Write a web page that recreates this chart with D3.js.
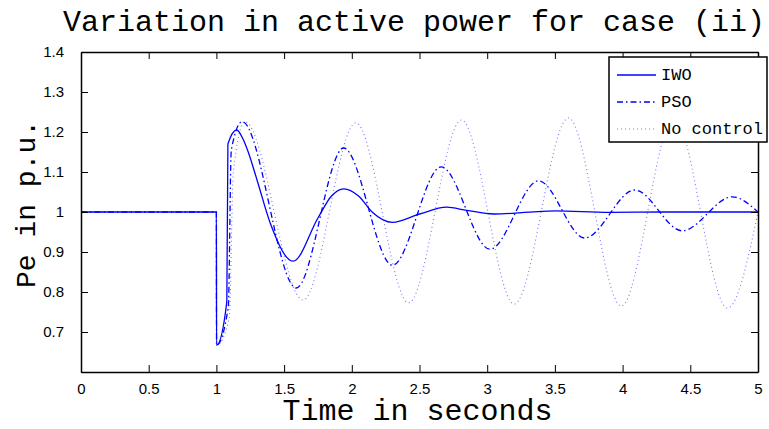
<!DOCTYPE html>
<html>
<head>
<meta charset="utf-8">
<script src="https://cdn.jsdelivr.net/npm/d3@7"></script>
<style>
  body { margin: 0; background: #fff; }
  .tick text { font-family: "Liberation Sans", Arial, sans-serif; font-size: 15px; }
</style>
</head>
<body>
<div id="chart"></div>
<script>
// values: [time s, Pe p.u.]
var iwo = [[0,1],[1,1],[1.001,0.667],[1.077,0.776],[1.085,1.17],[1.15,1.205],[1.2,1.18],[1.235,1.15],
  [1.3,1.08],[1.4,0.97],[1.566,0.877],[1.75,0.985],[1.85,1.04],[1.94,1.058],[2.05,1.04],[2.15,1.0],
  [2.3,0.974],[2.5,0.995],[2.7,1.012],[2.85,1.004],[3.05,0.995],[3.5,1.003],[3.9,0.999],[4.3,1.0],[5,1.0]];
var pso = [[0,1],[1,1],[1.001,0.667],[1.088,0.763],[1.11,1.155],[1.19,1.226],[1.59,0.81],[1.94,1.16],
  [2.3,0.867],[2.66,1.113],[3.02,0.907],[3.38,1.078],[3.72,0.935],[4.09,1.055],[4.44,0.953],[4.81,1.038],[5,1.0]];
var noctrl = [[0,1],[1,1],[1.001,0.667],[1.095,0.735],[1.125,1.1],[1.21,1.226],[1.64,0.78],[2.03,1.223],
  [2.42,0.773],[2.81,1.23],[3.2,0.77],[3.6,1.235],[3.99,0.765],[4.38,1.235],[4.775,0.76],[5,1.0]];
var xTicks = [0,0.5,1,1.5,2,2.5,3,3.5,4,4.5,5];
var xTickLabels = ["0","0.5","1","1.5","2","2.5","3","3.5","4","4.5","5"];
var yTicks = [0.6,0.7,0.8,0.9,1,1.1,1.2,1.3,1.4];
var yTickLabels = ["","0.7","0.8","0.9","1","1.1","1.2","1.3","1.4"];
var seriesNames = ["IWO","PSO","No control"];

var w = 769, h = 429,
    margin = {top: 52, right: 11, bottom: 57, left: 81},
    width = w - margin.left - margin.right,
    height = h - margin.top - margin.bottom;

var mono = "'Liberation Mono', 'Courier New', monospace";

var svg = d3.select("#chart").append("svg").attr("width", w).attr("height", h);

var x = d3.scaleLinear().domain([0, 5]).range([0, width]),
    y = d3.scaleLinear().domain([0.6, 1.4]).range([height, 0]);

var g = svg.append("g").attr("transform", "translate(" + margin.left + "," + margin.top + ")");

var line = d3.line()
    .curve(d3.curveMonotoneX)
    .x(function(d) { return x(d[0]); })
    .y(function(d) { return y(d[1]); });

var styles = [
  {data: iwo, stroke: "#0000ff", dash: null, sw: 1.3},
  {data: pso, stroke: "#0000ff", dash: "6,3,1.5,3", sw: 1.3},
  {data: noctrl, stroke: "#7777ff", dash: "1,3", sw: 1.1}
];

g.append("defs").append("clipPath").attr("id", "clip")
  .append("rect").attr("width", width).attr("height", height);

// draw no control first so IWO ends up on top
styles.slice().reverse().forEach(function(s) {
  g.append("path")
      .datum(s.data)
      .attr("clip-path", "url(#clip)")
      .attr("fill", "none")
      .attr("stroke", s.stroke)
      .attr("stroke-width", s.sw)
      .attr("stroke-dasharray", s.dash)
      .attr("d", line);
});

// axes, ticks pointing inward on all four sides
function fmt(ticks, labels) { return function(d) { return labels[ticks.indexOf(d)]; }; }

g.append("g")
    .attr("transform", "translate(0," + height + ")")
    .call(d3.axisBottom(x).tickValues(xTicks).tickFormat(fmt(xTicks, xTickLabels)).tickSizeInner(-7).tickSizeOuter(0).tickPadding(11));
g.append("g")
    .call(d3.axisTop(x).tickValues(xTicks).tickFormat("").tickSizeInner(-7).tickSizeOuter(0));
g.append("g")
    .call(d3.axisLeft(y).tickValues(yTicks).tickFormat(fmt(yTicks, yTickLabels)).tickSizeInner(-7).tickSizeOuter(0).tickPadding(17));
g.append("g")
    .attr("transform", "translate(" + width + ",0)")
    .call(d3.axisRight(y).tickValues(yTicks).tickFormat("").tickSizeInner(-7).tickSizeOuter(0));

g.selectAll(".domain").attr("stroke", "#000").attr("stroke-width", 1.5);
g.selectAll(".tick line").attr("stroke", "#000");
g.selectAll(".tick text").attr("fill", "#000");

// titles
svg.append("text")
    .attr("x", 414).attr("y", 31)
    .attr("text-anchor", "middle")
    .style("font-family", mono)
    .style("font-size", "30px")
    .text("Variation in active power for case (ii)");

svg.append("text")
    .attr("x", margin.left + width / 2 - 2).attr("y", 420)
    .attr("text-anchor", "middle")
    .style("font-family", mono)
    .style("font-size", "30px")
    .text("Time in seconds");

svg.append("text")
    .attr("transform", "translate(35," + (margin.top + height / 2 - 8) + ") rotate(-90)")
    .attr("text-anchor", "middle")
    .style("font-family", mono)
    .style("font-size", "28px")
    .text("Pe in p.u.");

// legend
var lg = svg.append("g").attr("transform", "translate(609,57)");
lg.append("rect").attr("width", 158).attr("height", 85)
    .attr("fill", "#fff").attr("stroke", "#000").attr("stroke-width", 1.5);
seriesNames.forEach(function(name, i) {
  var yy = 18 + i * 27;
  lg.append("line").attr("x1", 8).attr("x2", 47).attr("y1", yy).attr("y2", yy)
      .attr("stroke", styles[i].stroke).attr("stroke-width", styles[i].sw)
      .attr("stroke-dasharray", styles[i].dash);
  lg.append("text").attr("x", 52).attr("y", yy + 5)
      .style("font-family", mono)
      .style("font-size", "17px")
      .text(name);
});
</script>
</body>
</html>
